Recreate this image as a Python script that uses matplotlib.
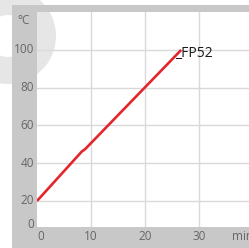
import matplotlib
matplotlib.use("Agg")
import matplotlib.pyplot as plt
from matplotlib.patches import Rectangle, Wedge

# heating curve FP52 (temperature in degC vs time in min)
time_min = [0, 8.3, 8.9, 26.7]
temp_c = [20, 46.2, 47.4, 100]
x_ticks = [0, 10, 20, 30]
y_ticks = [20, 40, 60, 80, 100]
curve_label = "_FP52"

plt.rcParams['font.family'] = ['Open Sans', 'DejaVu Sans']

W, H = 249, 248
fig = plt.figure(figsize=(W / 100, H / 100), dpi=100, facecolor='white')

# background: watermark + grey frame, in pixel coords
bg = fig.add_axes([0, 0, 1, 1], zorder=0)
bg.set_xlim(0, W)
bg.set_ylim(H, 0)
bg.axis('off')
bg.add_patch(Wedge((8, 36), 48, -160, 155, width=27, color='#e6e6e6', lw=0, zorder=1))
band = '#c8c8c8'
bg.add_patch(Rectangle((12, 5), 25, H - 5, color=band, lw=0, zorder=2))
bg.add_patch(Rectangle((12, 5), W - 12, 7, color=band, lw=0, zorder=2))
bg.add_patch(Rectangle((12, 227), W - 12, H - 227, color=band, lw=0, zorder=2))

# plot area
left, right, top, bottom = 37, 249, 12, 227
ax = fig.add_axes([left / W, 1 - bottom / H, (right - left) / W, (bottom - top) / H], zorder=1)
ax.set_facecolor('none')
ax.set_xlim(0, 39.26)
ax.set_ylim(6.2, 120.1)

for x in x_ticks[1:]:
    ax.axvline(x, color='#d9d9d9', lw=1.0, zorder=1)
for y in y_ticks:
    ax.axhline(y, color='#d9d9d9', lw=1.0, zorder=1)

ax.plot(time_min, temp_c, color='#e3262c', lw=1.9, zorder=3, solid_capstyle='butt')
ax.text(25.6, 96.3, curve_label, fontsize=10, color='#1a1a1a', ha='left', va='baseline', zorder=4)

ax.set_xticks([])
ax.set_yticks([])
for s in ax.spines.values():
    s.set_visible(False)

tick_color = '#666666'
fs = 8.5
for y in y_ticks:
    fig.text(34 / W, 1 - (bg.transData.inverted().transform(ax.transData.transform((0, y)))[1]) / H,
             str(y), fontsize=fs, color=tick_color, ha='right', va='center')
fig.text(34 / W, 1 - 225 / H, "0", fontsize=fs, color=tick_color, ha='right', va='center')
for x in x_ticks:
    px = bg.transData.inverted().transform(ax.transData.transform((x, 0)))[0]
    if x == 0:
        px += 4
    fig.text(px / W, 1 - 237 / H, str(x), fontsize=fs, color=tick_color, ha='center', va='center')
fig.text(24 / W, 1 - 20 / H, "°C", fontsize=fs, color=tick_color, ha='center', va='center')
fig.text(232 / W, 1 - 237 / H, "min", fontsize=fs, color=tick_color, ha='left', va='center')

fig.savefig("out.png", dpi=100, facecolor='white')
